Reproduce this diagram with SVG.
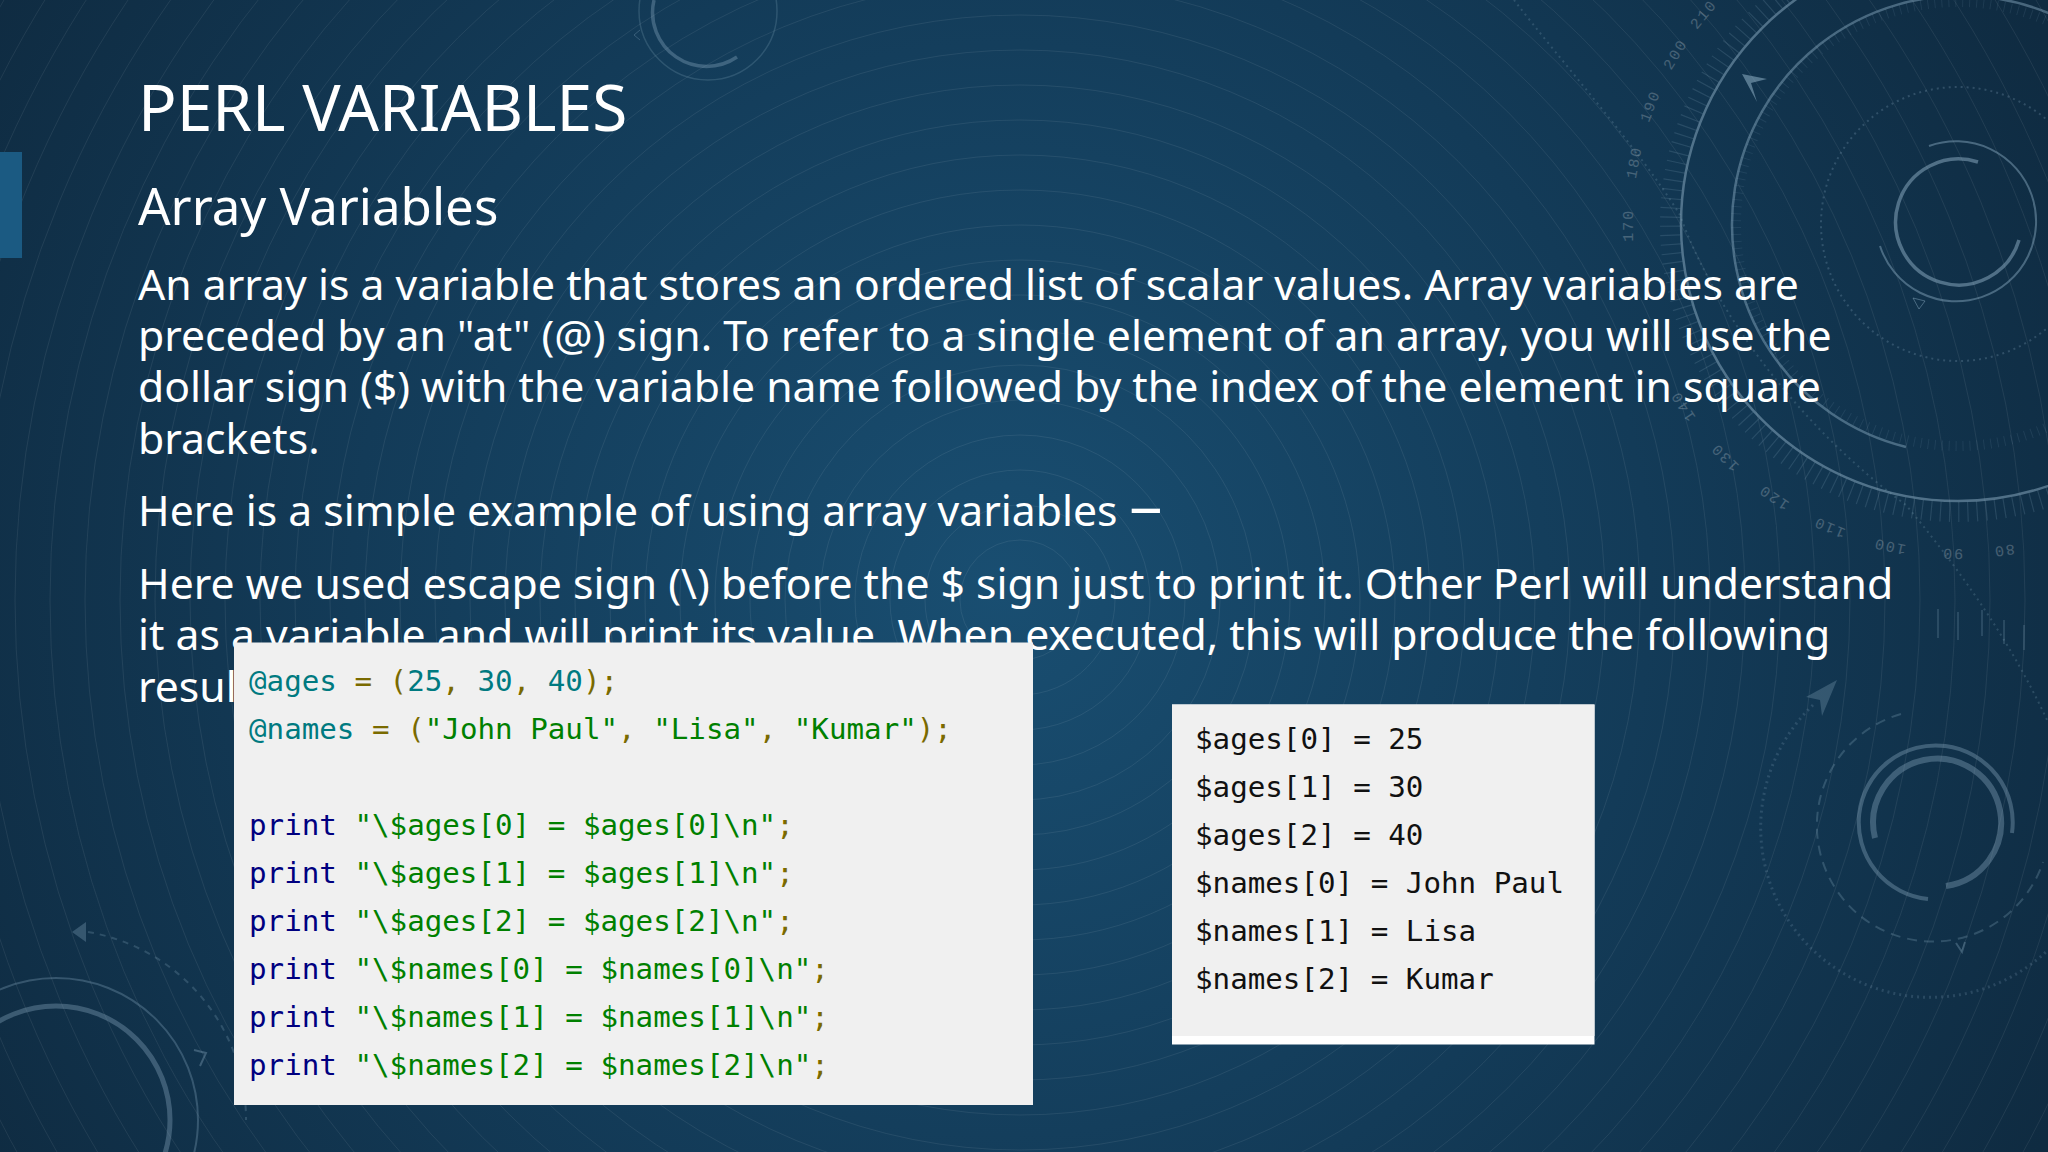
<svg xmlns="http://www.w3.org/2000/svg" width="2048" height="1152" viewBox="0 0 2048 1152">
<style>
.bgline{fill:none;stroke:#fff;stroke-width:1;opacity:.075}
.deco{fill:none;stroke:#8fb0c6;stroke-linecap:butt}
.num{font-family:"Liberation Mono",monospace;font-size:15px;letter-spacing:2px;fill:#fff;opacity:.22;text-anchor:middle}
.head{font-family:"Noto Sans",sans-serif;fill:#fff}
.body{font-family:"Noto Sans",sans-serif;font-size:42.7px;fill:#fff}
.code{font-family:"DejaVu Sans Mono",monospace;font-size:29.2px;white-space:pre}
.t{fill:#007a80}.o{fill:#7a6a00}.g{fill:#008000}.n{fill:#000080}.k{fill:#111}
</style>
<defs>
<radialGradient id="bg" gradientUnits="userSpaceOnUse" cx="1000" cy="590" r="1180">
<stop offset="0" stop-color="#194e71"/><stop offset=".55" stop-color="#133b58"/><stop offset="1" stop-color="#0f2b41"/>
</radialGradient>
</defs>
<rect width="2048" height="1152" fill="url(#bg)"/>
<g id="background-rings" transform="translate(1020 600)">
<circle class="bgline" r="60"/><circle class="bgline" r="95"/><circle class="bgline" r="130"/><circle class="bgline" r="165"/><circle class="bgline" r="200"/><circle class="bgline" r="235"/><circle class="bgline" r="270"/><circle class="bgline" r="305"/><circle class="bgline" r="340"/><circle class="bgline" r="375"/><circle class="bgline" r="410"/><circle class="bgline" r="445"/><circle class="bgline" r="480"/><circle class="bgline" r="515"/><circle class="bgline" r="550"/><circle class="bgline" r="585"/><circle class="bgline" r="620"/><circle class="bgline" r="655"/><circle class="bgline" r="690"/><circle class="bgline" r="725"/><circle class="bgline" r="760"/><circle class="bgline" r="795"/><circle class="bgline" r="830"/><circle class="bgline" r="865"/><circle class="bgline" r="900"/><circle class="bgline" r="935"/><circle class="bgline" r="970"/><circle class="bgline" r="1005"/><circle class="bgline" r="1040"/><circle class="bgline" r="1075"/><circle class="bgline" r="1110"/><circle class="bgline" r="1145"/><circle class="bgline" r="1180"/>
</g>
<g id="dial-top-right">
<circle class="deco" cx="1958" cy="224" r="277" stroke-width="2.5" opacity=".5"/>
<path class="deco" d="M1906 447A229 229 0 1 1 2190 224" stroke-width="2.5" opacity=".45"/>
<circle class="deco" cx="1958" cy="224" r="288" stroke-width="20" stroke-dasharray="1.2 8" opacity=".18"/>
<circle class="deco" cx="1958" cy="224" r="222" stroke-width="10" stroke-dasharray="1 6" opacity=".12"/>
<circle class="deco" cx="1958" cy="224" r="137" stroke-width="2" stroke-dasharray="2 4" opacity=".25"/>
<path class="deco" d="M1929 146A80 80 0 1 1 1880 246" stroke-width="2" opacity=".45"/>
<path class="deco" d="M1978 162A63 63 0 1 0 2019 240" stroke-width="3.5" opacity=".5"/>
<path class="deco" d="M1514 0C1560 60 1640 150 1680 215C1710 300 1790 420 1906 505C1960 570 2010 640 2048 722" stroke-width="2" stroke-dasharray="2 4" opacity=".22"/>
<path d="M1742 74L1767 79L1751 83L1757 102Z" fill="#8fb0c6" opacity=".55"/>
<path d="M1913 298L1925 301L1919 309Z" fill="none" stroke="#8fb0c6" opacity=".45"/>
<g stroke="#8fb0c6" opacity=".2" stroke-width="2"><path d="M1938 609V638M1958 612V640M1982 610V636M2004 620V644M2024 625V650"/></g>
<g transform="translate(1958 224)">
<text class="num" transform="rotate(82) translate(325 0) rotate(90)">80</text>
<text class="num" transform="rotate(91) translate(325 0) rotate(90)">90</text>
<text class="num" transform="rotate(102) translate(325 0) rotate(90)">100</text>
<text class="num" transform="rotate(113) translate(325 0) rotate(90)">110</text>
<text class="num" transform="rotate(124) translate(325 0) rotate(90)">120</text>
<text class="num" transform="rotate(135) translate(325 0) rotate(90)">130</text>
<text class="num" transform="rotate(146.5) translate(325 0) rotate(90)">140</text>
<text class="num" transform="rotate(179.8) translate(325 0) rotate(90)">170</text>
<text class="num" transform="rotate(190.8) translate(325 0) rotate(90)">180</text>
<text class="num" transform="rotate(201) translate(325 0) rotate(90)">190</text>
<text class="num" transform="rotate(211) translate(325 0) rotate(90)">200</text>
<text class="num" transform="rotate(219.5) translate(325 0) rotate(90)">210</text>
</g>
</g>
<g id="dial-top-center">
<circle class="deco" cx="708" cy="11" r="69" stroke-width="1.5" opacity=".22"/>
<path class="deco" d="M654 0A54 54 0 0 0 737 57" stroke-width="3.5" opacity=".35"/>
<path d="M640 30L634 35L640 40" fill="none" stroke="#8fb0c6" opacity=".3"/>
</g>
<g id="dial-bottom-left">
<circle class="deco" cx="56" cy="1120" r="114" stroke-width="5" opacity=".35"/>
<circle class="deco" cx="56" cy="1120" r="142" stroke-width="2" opacity=".3"/>
<path class="deco" d="M88 932A190 190 0 0 1 246 1120" stroke-width="2" stroke-dasharray="6 6" opacity=".24"/>
<path d="M86 922L72 932L86 942Z" fill="#8fb0c6" opacity=".3"/>
<path d="M194 1050L206 1053L200 1066" fill="none" stroke="#8fb0c6" stroke-width="2" opacity=".35"/>
</g>
<g id="dial-bottom-right">
<path class="deco" d="M1928 899A77 77 0 1 1 2012 833" stroke-width="4" opacity=".36"/>
<path class="deco" d="M1875 838A64 64 0 1 1 1946 886" stroke-width="6" opacity=".36"/>
<path class="deco" d="M1901 714A116 116 0 1 0 2043 862" stroke-width="2" stroke-dasharray="10 7" opacity=".26"/>
<path class="deco" d="M1813 705A167 167 0 1 0 2048 950" stroke-width="3" stroke-dasharray="2 4" opacity=".2"/>
<path d="M1837 680L1806 697L1820 700L1822 716Z" fill="#8fb0c6" opacity=".28"/>
<path d="M1956 943L1962 952L1965 942" fill="none" stroke="#8fb0c6" stroke-width="2" opacity=".32"/>
</g>
<rect id="accent-bar" x="0" y="152" width="22" height="106" fill="#1b5a82"/>
<g id="title"><text class="head" x="138" y="131" font-size="64">PERL VARIABLES</text></g>
<g id="subtitle"><text class="head" x="138" y="225" font-size="51">Array Variables</text></g>
<g id="body-text">
<text class="body" x="138" y="299.5">An array is a variable that stores an ordered list of scalar values. Array variables are</text>
<text class="body" x="138" y="351">preceded by an "at" (@) sign. To refer to a single element of an array, you will use the</text>
<text class="body" x="138" y="402">dollar sign ($) with the variable name followed by the index of the element in square</text>
<text class="body" x="138" y="453.5">brackets.</text>
<text class="body" x="138" y="526">Here is a simple example of using array variables <tspan font-size="60" dy="6">−</tspan></text>
<text class="body" x="138" y="598.5">Here we used escape sign (\) before the $ sign just to print it. Other Perl will understand</text>
<text class="body" x="138" y="650">it as a variable and will print its value. When executed, this will produce the following</text>
<text class="body" x="138" y="701.5">resul</text>
</g>
<g id="code-panel">
<rect x="234" y="642.5" width="799" height="462.5" fill="#f0f0f0"/>
<text class="code" x="249" y="690.5"><tspan class="t">@ages </tspan><tspan class="o">= (</tspan><tspan class="t">25</tspan><tspan class="o">, </tspan><tspan class="t">30</tspan><tspan class="o">, </tspan><tspan class="t">40</tspan><tspan class="o">);</tspan></text>
<text class="code" x="249" y="738.5"><tspan class="t">@names </tspan><tspan class="o">= (</tspan><tspan class="g">"John Paul"</tspan><tspan class="o">, </tspan><tspan class="g">"Lisa"</tspan><tspan class="o">, </tspan><tspan class="g">"Kumar"</tspan><tspan class="o">);</tspan></text>
<text class="code" x="249" y="835"><tspan class="n">print </tspan><tspan class="g">"\$ages[0] = $ages[0]\n"</tspan><tspan class="o">;</tspan></text>
<text class="code" x="249" y="883"><tspan class="n">print </tspan><tspan class="g">"\$ages[1] = $ages[1]\n"</tspan><tspan class="o">;</tspan></text>
<text class="code" x="249" y="931"><tspan class="n">print </tspan><tspan class="g">"\$ages[2] = $ages[2]\n"</tspan><tspan class="o">;</tspan></text>
<text class="code" x="249" y="979"><tspan class="n">print </tspan><tspan class="g">"\$names[0] = $names[0]\n"</tspan><tspan class="o">;</tspan></text>
<text class="code" x="249" y="1027"><tspan class="n">print </tspan><tspan class="g">"\$names[1] = $names[1]\n"</tspan><tspan class="o">;</tspan></text>
<text class="code" x="249" y="1075"><tspan class="n">print </tspan><tspan class="g">"\$names[2] = $names[2]\n"</tspan><tspan class="o">;</tspan></text>
</g>
<g id="output-panel">
<rect x="1172" y="704.5" width="422.5" height="340" fill="#fff"/>
<rect x="1172" y="704.5" width="422.5" height="331.5" fill="#f0f0f0"/>
<text class="code k" x="1195" y="749">$ages[0] = 25</text>
<text class="code k" x="1195" y="797">$ages[1] = 30</text>
<text class="code k" x="1195" y="845">$ages[2] = 40</text>
<text class="code k" x="1195" y="893">$names[0] = John Paul</text>
<text class="code k" x="1195" y="941">$names[1] = Lisa</text>
<text class="code k" x="1195" y="989">$names[2] = Kumar</text>
</g>
</svg>
